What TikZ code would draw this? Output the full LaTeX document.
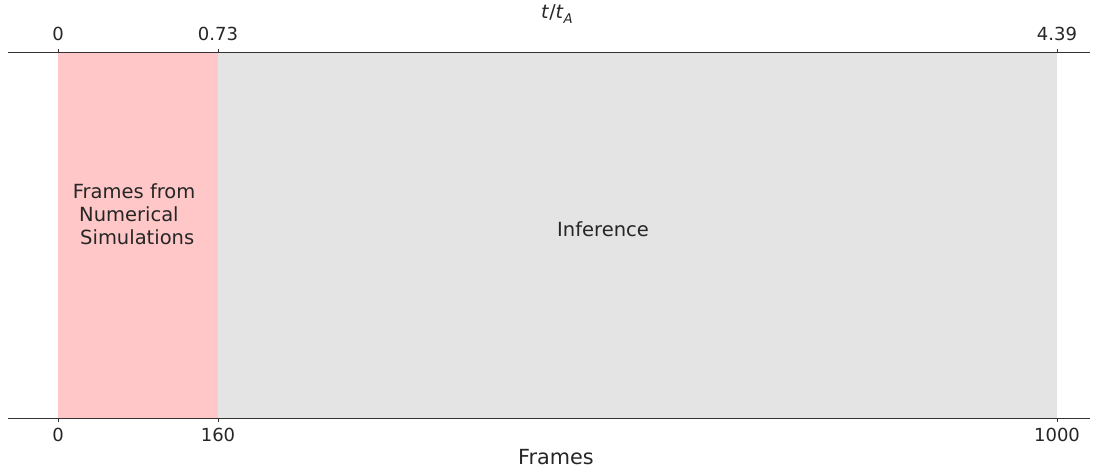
\documentclass[tikz,border=0pt]{standalone}
\usepackage{fontspec}
\setmainfont{DejaVu Sans}
\begin{document}
\begin{tikzpicture}[x=1pt,y=-1pt,
  ticklab/.style={font=\fontsize{18}{20}\selectfont, text=black!85, inner sep=0pt},
  axlab/.style={font=\fontsize{20.8}{24}\selectfont, text=black!85, inner sep=0pt},
  axline/.style={line width=1pt, draw=black!80},
  tick/.style={line width=0.9pt, draw=black!80},
  region/.style={text=black!85, font=\fontsize{19.5}{23}\selectfont}]
\useasboundingbox (0,0) rectangle (1100,468);
% shaded spans
\fill[fill={rgb,255:red,255;green,199;blue,199}] (58,53) rectangle (218,418);
\fill[fill={rgb,255:red,228;green,228;blue,228}] (218,53) rectangle (1057,418);
% axes lines
\draw[axline] (8,53) -- (1090,53);
\draw[axline] (8,418) -- (1090,418);
% ticks
\foreach \xx in {58,218,1057}{
  \draw[tick] (\xx,53) -- (\xx,49.5);
  \draw[tick] (\xx,418) -- (\xx,421.5);
}
% top tick labels
\node[ticklab] (t0) at (58,34) {0};
\node[ticklab] (t1) at (218,34) {0.73};
\node[ticklab] (t2) at (1057,34) {4.39};
% bottom tick labels
\node[ticklab] (b0) at (58,434.5) {0};
\node[ticklab] (b1) at (218,434.5) {160};
\node[ticklab] (b2) at (1057,434.5) {1000};
% axis titles
\node[axlab, font=\fontsize{19}{22}\selectfont] (toplab) at (557,14) {\textit{t}/\textit{t}\raisebox{-0.3em}{\fontsize{13.3}{14}\selectfont\textit{A}}};
\node[axlab] (botlab) at (556,457) {Frames};
% region labels
\node[region, inner sep=0pt, align=left, anchor=west] (sim) at (72.7,214) {Frames from\\\hspace*{6.3pt}Numerical\\\hspace*{7.3pt}Simulations};
\node[region, inner sep=0pt] (inf) at (603,229) {Inference};
\end{tikzpicture}
\end{document}
